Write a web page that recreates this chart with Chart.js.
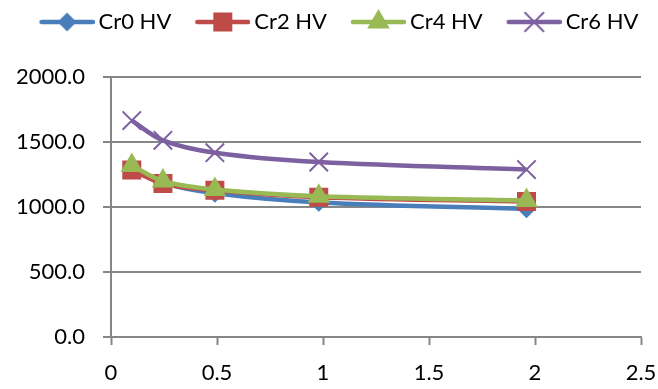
<!DOCTYPE html>
<html>
<head>
<meta charset="utf-8">
<script src="https://cdn.jsdelivr.net/npm/chart.js@4/dist/chart.umd.min.js"></script>
<style>
  body { margin: 0; background: #fff; }
  canvas { display: block; }
</style>
</head>
<body>
<canvas id="hvChart" width="658" height="389"></canvas>
<script>
// indentation load (N) and hardness values
const loads = [0.098, 0.245, 0.49, 0.98, 1.96];
const cr0Hv = [1300, 1185, 1105, 1035, 985];
const cr2Hv = [1285, 1180, 1128, 1075, 1042];
const cr4Hv = [1320, 1200, 1134, 1082, 1050];
const cr6Hv = [1665, 1513, 1418, 1346, 1288];
const seriesNames = ["Cr0 HV", "Cr2 HV", "Cr4 HV", "Cr6 HV"];
const seriesColors = ["#4A7EBB", "#BE4B48", "#98B954", "#7D60A0"];
const markerStyles = ["rectRot", "rect", "triangle", "crossRot"];
const markerSizes = [8, 12, 11, 13];

const xMin = 0, xMax = 2.5, xStep = 0.5;
const yMin = 0, yMax = 2000, yStep = 500;

const gridGray = "#868686";
const legendBox = 61;

function toPoints(values) {
  return loads.map((x, i) => ({ x: x, y: values[i] }));
}

// legend icon: short line with the marker on it (drawn in the right part of the image)
function legendIcon(color, style, radius) {
  const c = document.createElement("canvas");
  const w = legendBox + 14;
  c.width = w;
  c.height = 30;
  const ctx = c.getContext("2d");
  ctx.strokeStyle = color;
  ctx.lineWidth = 4.5;
  ctx.lineCap = "round";
  ctx.beginPath();
  ctx.moveTo(w - 53, 15);
  ctx.lineTo(w - 2, 15);
  ctx.stroke();
  ctx.fillStyle = color;
  ctx.lineWidth = 2;
  Chart.helpers.drawPoint(ctx, { pointStyle: style, radius: radius, rotation: 0, borderWidth: 2 }, w - 27.5, 15);
  return c;
}

const legendIcons = seriesColors.map((c, i) => legendIcon(c, markerStyles[i], markerSizes[i]));

function makeDataset(i, values) {
  return {
    label: seriesNames[i],
    data: toPoints(values),
    borderColor: seriesColors[i],
    backgroundColor: seriesColors[i],
    pointBackgroundColor: seriesColors[i],
    pointBorderColor: seriesColors[i],
    pointStyle: markerStyles[i],
    pointRadius: markerSizes[i],
    pointBorderWidth: 2,
    borderWidth: 4.5,
    tension: 0.35,
    order: 4 - i,
  };
}

// keep the legend on one row, fixed height, nudged right like the original
const legendFix = {
  id: "legendFix",
  beforeInit(chart) {
    const fit = chart.legend.fit;
    chart.legend.fit = function () {
      const w = this.maxWidth;
      this.maxWidth = 2000;
      fit.call(this);
      this.maxWidth = w;
      this.width = w;
      this.height = 77;
    };
  },
  afterLayout(chart) {
    chart.legend.left += 12;
    chart.legend.right += 12;
  },
};

Chart.defaults.font.family = "Lato";
Chart.defaults.font.size = 22;
Chart.defaults.color = "#000";

new Chart(document.getElementById("hvChart"), {
  type: "line",
  data: {
    datasets: [
      makeDataset(0, cr0Hv),
      makeDataset(1, cr2Hv),
      makeDataset(2, cr4Hv),
      makeDataset(3, cr6Hv),
    ],
  },
  options: {
    responsive: false,
    animation: false,
    devicePixelRatio: 1,
    layout: {
      padding: { left: 0, right: 17, top: 0, bottom: 0 },
    },
    scales: {
      x: {
        type: "linear",
        min: xMin,
        max: xMax,
        afterFit: (scale) => {
          scale.height = 52;
          scale.paddingLeft = 0;
          scale.paddingRight = 0;
        },
        ticks: {
          stepSize: xStep,
          padding: 15,
          maxRotation: 0,
          callback: (v) => String(v),
        },
        grid: {
          drawOnChartArea: false,
          tickLength: 8,
          tickWidth: 2,
          tickColor: gridGray,
        },
        border: { color: gridGray, width: 2 },
      },
      y: {
        min: yMin,
        max: yMax,
        afterFit: (scale) => { scale.width = 111; },
        ticks: {
          stepSize: yStep,
          padding: 18,
          callback: (v) => v.toFixed(1),
        },
        grid: {
          color: gridGray,
          lineWidth: 2,
          tickLength: 8,
        },
        border: { color: gridGray, width: 2 },
      },
    },
    plugins: {
      tooltip: { enabled: false },
      legend: {
        position: "top",
        labels: {
          usePointStyle: true,
          pointStyleWidth: legendBox,
          padding: 11,
          generateLabels: (chart) =>
            chart.data.datasets.map((ds, i) => ({
              text: ds.label,
              pointStyle: legendIcons[i],
              datasetIndex: i,
              hidden: false,
              fontColor: "#000",
              lineWidth: 0,
              strokeStyle: "rgba(0,0,0,0)",
              fillStyle: "rgba(0,0,0,0)",
            })),
        },
      },
    },
  },
  plugins: [legendFix],
});
</script>
</body>
</html>
